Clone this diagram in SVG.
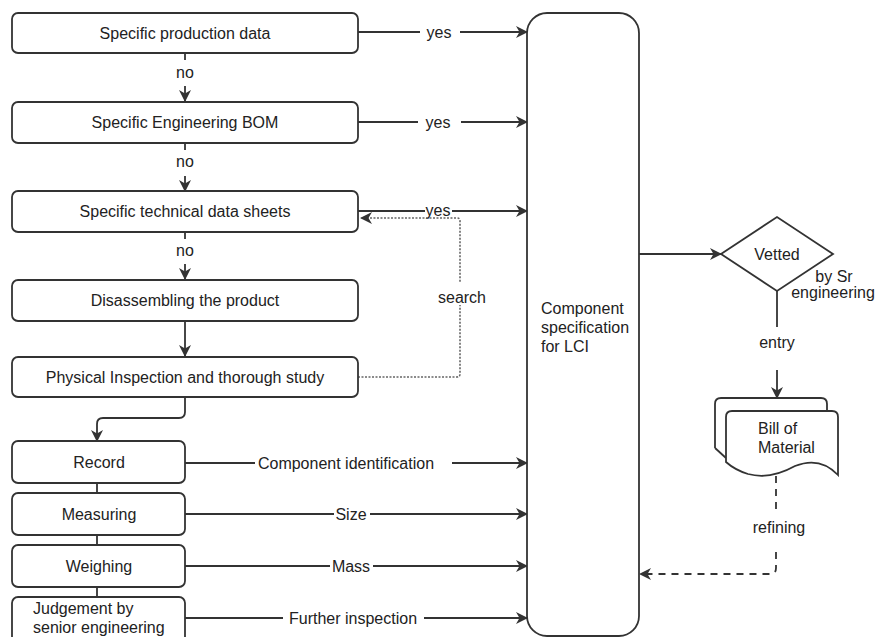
<svg xmlns="http://www.w3.org/2000/svg" width="875" height="637" viewBox="0 0 875 637">
<defs>
<style>
.box{fill:#fff;stroke:#333;stroke-width:1.8}
.t{font-family:"Liberation Sans",Arial,sans-serif;font-size:16px;fill:#222}
.c{text-anchor:middle}
.ln{fill:none;stroke:#333;stroke-width:1.8}
.dot{fill:none;stroke:#666;stroke-width:1.6;stroke-dasharray:2,1.5}
.dash{fill:none;stroke:#333;stroke-width:1.8;stroke-dasharray:7,6}
</style>
<marker id="ah" viewBox="0 0 12 12" refX="11" refY="6" markerWidth="12" markerHeight="12" markerUnits="userSpaceOnUse" orient="auto">
<path d="M0,0 L12,6 L0,12 L3.5,6 z" fill="#333"/>
</marker>
</defs>
<rect width="875" height="637" fill="#fff"/>

<g id="connectors">
<path class="ln" d="M358,32 H420 M460,32 H527" marker-end="url(#ah)"/>
<text class="t c" x="439" y="38">yes</text>
<path class="ln" d="M358,122 H418 M461,122 H527" marker-end="url(#ah)"/>
<text class="t c" x="438" y="128">yes</text>
<path class="ln" d="M358,211 H425 M452,211 H527" marker-end="url(#ah)"/>
<text class="t c" x="438" y="216">yes</text>
<path class="ln" d="M185,54 V60"/>
<text class="t c" x="185" y="78">no</text>
<path class="ln" d="M185,86 V101" marker-end="url(#ah)"/>
<path class="ln" d="M185,144 V150"/>
<text class="t c" x="185" y="167">no</text>
<path class="ln" d="M185,176 V191" marker-end="url(#ah)"/>
<path class="ln" d="M185,233 V239"/>
<text class="t c" x="185" y="256">no</text>
<path class="ln" d="M185,264 V279" marker-end="url(#ah)"/>
<path class="ln" d="M185,321 V356" marker-end="url(#ah)"/>
<path class="ln" d="M185,397 V412 Q185,418 179,418 H103 Q97,418 97,424 V441" marker-end="url(#ah)"/>
<path class="dot" d="M358,377 H457 Q460,377 460,374 V221 Q460,218 457,218 H361" marker-end="url(#ah)"/>
<rect x="436" y="283" width="52" height="22" fill="#fff"/>
<text class="t c" x="462" y="303">search</text>
<path class="ln" d="M97,483 V493 M97,535 V545 M97,587 V597"/>
<path class="ln" d="M185,463 H255 M452,463 H527" marker-end="url(#ah)"/>
<text class="t c" x="346" y="469">Component identification</text>
<path class="ln" d="M185,514 H334 M370,514 H527" marker-end="url(#ah)"/>
<text class="t c" x="351" y="520">Size</text>
<path class="ln" d="M185,566 H330 M373,566 H527" marker-end="url(#ah)"/>
<text class="t c" x="351" y="572">Mass</text>
<path class="ln" d="M185,618 H283 M424,618 H527" marker-end="url(#ah)"/>
<text class="t c" x="353" y="624">Further inspection</text>
<path class="ln" d="M639,254 H721" marker-end="url(#ah)"/>
<path class="ln" d="M777,291 V327"/>
<text class="t c" x="777" y="348">entry</text>
<path class="ln" d="M777,370 V398" marker-end="url(#ah)"/>
<path class="dash" d="M776,476 V514"/>
<text class="t c" x="779" y="533">refining</text>
<path class="dash" d="M776,552 V568 Q776,574 770,574 H640" marker-end="url(#ah)"/>
</g>

<g id="n1"><rect class="box" x="12" y="13" width="346" height="40" rx="6"/><text class="t c" x="185" y="39">Specific production data</text></g>
<g id="n2"><rect class="box" x="12" y="102" width="346" height="41" rx="6"/><text class="t c" x="185" y="128">Specific Engineering BOM</text></g>
<g id="n3"><rect class="box" x="12" y="191" width="346" height="41" rx="6"/><text class="t c" x="185" y="217">Specific technical data sheets</text></g>
<g id="n4"><rect class="box" x="12" y="280" width="346" height="41" rx="6"/><text class="t c" x="185" y="306">Disassembling the product</text></g>
<g id="n5"><rect class="box" x="12" y="357" width="346" height="40" rx="6"/><text class="t c" x="185" y="383">Physical Inspection and thorough study</text></g>
<g id="n6"><rect class="box" x="12" y="441" width="173" height="42" rx="6"/><text class="t c" x="99" y="468">Record</text></g>
<g id="n7"><rect class="box" x="12" y="493" width="173" height="42" rx="6"/><text class="t c" x="99" y="520">Measuring</text></g>
<g id="n8"><rect class="box" x="12" y="545" width="173" height="42" rx="6"/><text class="t c" x="99" y="572">Weighing</text></g>
<g id="n9"><rect class="box" x="12" y="597" width="173" height="46" rx="6"/><text class="t" x="33" y="614">Judgement by</text><text class="t" x="33" y="633">senior engineering</text></g>
<g id="n10"><rect class="box" x="527" y="13" width="112" height="623" rx="20"/><text class="t" x="541" y="314">Component</text><text class="t" x="541" y="333">specification</text><text class="t" x="541" y="352">for LCI</text></g>
<g id="n11"><path class="box" d="M721,254 L777,217 L833,254 L777,291 Z"/><text class="t c" x="777" y="260">Vetted</text><text class="t c" x="834" y="282">by Sr</text><text class="t c" x="833" y="298">engineering</text></g>
<g id="n12">
<path class="box" d="M715,448 V404 Q715,398 721,398 H821 Q827,398 827,404 V411"/>
<path class="box" d="M715,448 L726,458"/>
<path class="box" d="M726,462 V417 Q726,411 732,411 H832 Q838,411 838,417 V475 Q820,456 795,466 Q770,480 748,474 Q735,470 726,462 Z"/>
<text class="t" x="758" y="434">Bill of</text><text class="t" x="758" y="453">Material</text>
</g>
</svg>
